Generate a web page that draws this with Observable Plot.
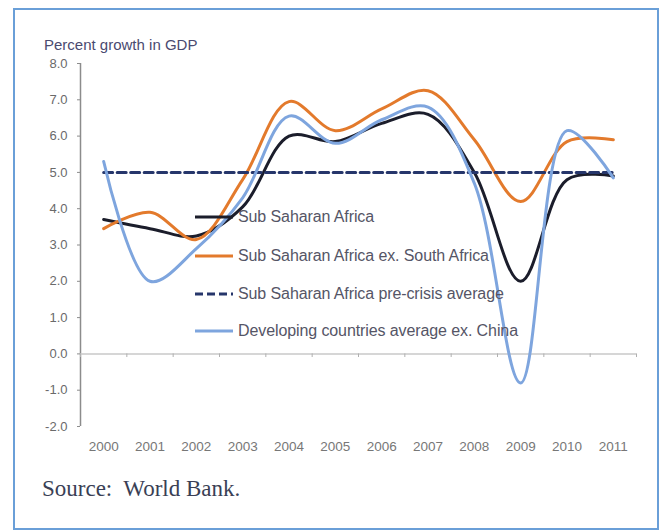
<!DOCTYPE html>
<html><head><meta charset="utf-8">
<script src="https://cdn.jsdelivr.net/npm/d3@7"></script>
<script src="https://cdn.jsdelivr.net/npm/@observablehq/plot@0.6"></script>
<style>
html,body{margin:0;padding:0;background:#fff;}
body{width:664px;height:530px;overflow:hidden;position:relative;font-family:Arial,"Liberation Sans",sans-serif;}
#frame{position:absolute;left:13px;top:8px;width:646px;height:522px;border:2px solid #6a9fd8;box-sizing:border-box;}
#chart{position:absolute;left:0;top:0;}
#ytitle{position:absolute;left:44px;top:36px;font-size:15px;color:#4a4a70;}
#legend{position:absolute;left:195px;top:0;}
.li{position:absolute;left:0;height:20px;white-space:nowrap;}
.li svg{position:absolute;left:0;top:0;}
.li span{position:absolute;left:43px;top:1px;font-size:16px;color:#555566;letter-spacing:-0.1px;}
#source{position:absolute;left:42px;top:476px;font-family:"Liberation Serif","Times New Roman",serif;font-size:23px;color:#3a3f55;white-space:pre;}
</style></head>
<body>
<div id="frame"></div>
<div id="chart"></div>
<div id="ytitle">Percent growth in GDP</div>
<div id="legend"></div>
<div id="source">Source:  World Bank.</div>
<script>
const years = [2000, 2001, 2002, 2003, 2004, 2005, 2006, 2007, 2008, 2009, 2010, 2011];
const subSaharanAfrica = [3.7, 3.45, 3.25, 4.05, 6.0, 5.85, 6.35, 6.6, 5.0, 2.0, 4.8, 4.9];
const subSaharanExSouthAfrica = [3.45, 3.9, 3.15, 4.8, 6.95, 6.15, 6.75, 7.25, 5.9, 4.2, 5.85, 5.9];
const preCrisisAverage = [5.0, 5.0, 5.0, 5.0, 5.0, 5.0, 5.0, 5.0, 5.0, 5.0, 5.0, 5.0];
const developingExChina = [5.3, 2.0, 2.9, 4.3, 6.55, 5.8, 6.45, 6.8, 4.7, -0.8, 6.15, 4.85];
const yTicks = [-2, -1, 0, 1, 2, 3, 4, 5, 6, 7, 8];
const seriesNames = ["Sub Saharan Africa", "Sub Saharan Africa ex. South Africa", "Sub Saharan Africa pre-crisis average", "Developing countries average ex. China"];
const seriesColors = ["#1b1d2b", "#e37a2c", "#26366b", "#7ea5de"];

const series = [subSaharanAfrica, subSaharanExSouthAfrica, preCrisisAverage, developingExChina];
const tables = series.map(vals => years.map((y, i) => ({year: y, value: vals[i]})));
const boundaries = years.map(y => y - 0.5).concat([years[years.length - 1] + 0.5]);
const x0 = boundaries[0], x1 = boundaries[boundaries.length - 1];

const lineOpts = (i, extra = {}) => ({x: "year", y: "value", stroke: seriesColors[i], strokeWidth: 3, curve: "catmull-rom", ...extra});

const plot = Plot.plot({
  width: 664,
  height: 470,
  marginLeft: 80,
  marginRight: 28,
  marginTop: 63,
  marginBottom: 44,
  x: {domain: [x0, x1]},
  y: {domain: [yTicks[0], yTicks[yTicks.length - 1]]},
  style: {fontFamily: "Arial, 'Liberation Sans', sans-serif", background: "transparent"},
  marks: [
    Plot.ruleX([x0], {y1: yTicks[0], y2: yTicks[yTicks.length - 1], stroke: "#8c8c8c", strokeWidth: 1.5}),
    Plot.ruleY([0], {x1: x0, x2: x1, stroke: "#c8c8c8", strokeWidth: 1.5}),
    Plot.ruleX(boundaries, {y1: 0, y2: -0.1, stroke: "#b0b0b0", strokeWidth: 1}),
    Plot.axisY(yTicks, {tickFormat: d => d.toFixed(1), tickSize: 3, tickPadding: 10, fontSize: 13, fill: "#6a6a6a", stroke: "#8c8c8c", label: null}),
    Plot.axisX(years, {tickFormat: d => String(d), tickSize: 0, tickPadding: 15, fontSize: 13.5, fill: "#777", label: null}),
    Plot.line(tables[0], lineOpts(0)),
    Plot.line(tables[1], lineOpts(1)),
    Plot.line(tables[2], lineOpts(2, {strokeDasharray: "9,4.5", curve: "linear"})),
    Plot.line(tables[3], lineOpts(3))
  ]
});
document.getElementById("chart").appendChild(plot);

// legend (layout positions only)
const legendTops = [207, 246, 284, 321];
const legend = document.getElementById("legend");
seriesNames.forEach((name, i) => {
  const div = document.createElement("div");
  div.className = "li";
  div.style.top = legendTops[i] + "px";
  const dash = i === 2 ? 'stroke-dasharray="8,4"' : "";
  div.innerHTML = `<svg width="40" height="20"><line x1="0" x2="38" y1="10" y2="10" stroke="${seriesColors[i]}" stroke-width="3" ${dash}/></svg><span>${name}</span>`;
  legend.appendChild(div);
});
</script>
</body></html>
